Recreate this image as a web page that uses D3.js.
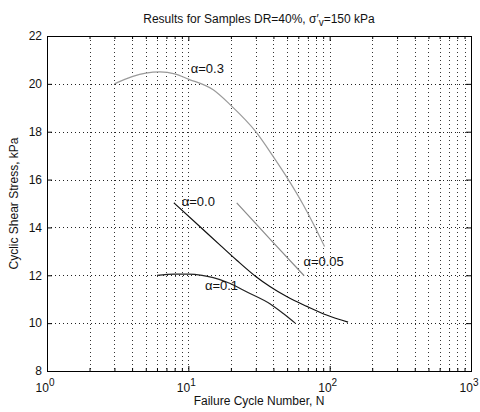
<!DOCTYPE html>
<html><head><meta charset="utf-8">
<script src="https://cdn.jsdelivr.net/npm/d3@7"></script>
<style>
html,body{margin:0;padding:0;background:#fff;}
svg text{font-family:"Liberation Sans",Arial,sans-serif;fill:#111;}
</style></head>
<body>
<svg id="c" width="480" height="412"></svg>
<script>
// ---- data ----
const xTickValues = [1, 10, 100, 1000];
const xTickExponents = ["0", "1", "2", "3"];
const yTickValues = [8, 10, 12, 14, 16, 18, 20, 22];
const seriesNames = ["α=0.3", "α=0.0", "α=0.05", "α=0.1"];
const alpha03N = [3.0, 4.0, 5.0, 6.3, 8.0, 10, 15, 20, 30, 40, 51, 65, 79, 92];
const alpha03S = [20.0, 20.3, 20.45, 20.5, 20.42, 20.2, 19.75, 19.1, 18.0, 16.95, 16.0, 14.95, 14.0, 13.2];
const alpha00N = [7.9, 12, 17, 22, 30, 38, 50, 69, 95, 135];
const alpha00S = [15.03, 14.05, 13.23, 12.63, 11.95, 11.52, 11.1, 10.7, 10.34, 10.04];
const alpha005N = [22, 38, 66];
const alpha005S = [15.03, 13.5, 11.98];
const alpha01N = [6.0, 8.0, 10, 12.5, 15, 19, 26, 38, 47, 57];
const alpha01S = [12.0, 12.05, 12.05, 12.0, 11.9, 11.7, 11.3, 10.8, 10.4, 10.0];
const labelN = [10.4, 8.98, 65.2, 13.1];
const labelS = [20.47, 14.88, 12.37, 11.39];
const titleText = "Results for Samples DR=40%, σ′";
const xLabel = "Failure Cycle Number, N";
const yLabel = "Cyclic Shear Stress, kPa";

// ---- layout ----
const M = {l: 47, t: 36, w: 424, h: 335};
const svg = d3.select("#c");
const g = svg.append("g").attr("transform", `translate(${M.l},${M.t})`);
const x = d3.scaleLog().domain([1, 1000]).range([0, M.w]);
const y = d3.scaleLinear().domain([8, 22]).range([M.h, 0]);

// minor log positions
const minor = [];
[1, 10, 100].forEach(d => { for (let k = 2; k <= 9; k++) minor.push(d * k); });
const vGrid = minor.concat([10, 100]);

// grid
g.append("g").selectAll("line").data(vGrid).join("line")
  .attr("x1", d => Math.round(x(d)) + 0.5).attr("x2", d => Math.round(x(d)) + 0.5)
  .attr("y1", 0).attr("y2", M.h)
  .attr("stroke", "#333").attr("stroke-width", 1).attr("stroke-dasharray", "1,3");
g.append("g").selectAll("line").data(yTickValues.slice(1, -1)).join("line")
  .attr("y1", d => Math.round(y(d)) + 0.5).attr("y2", d => Math.round(y(d)) + 0.5)
  .attr("x1", 0).attr("x2", M.w)
  .attr("stroke", "#222").attr("stroke-width", 1).attr("stroke-dasharray", "1,3");

// axes
const axB = g.append("g").attr("transform", `translate(0,${M.h})`)
  .call(d3.axisBottom(x).tickValues(xTickValues).tickSize(-5).tickPadding(9).tickFormat(""));
const axT = g.append("g").call(d3.axisTop(x).tickValues(xTickValues).tickSize(-5).tickFormat(""));
const axL = g.append("g").call(d3.axisLeft(y).tickValues(yTickValues).tickSize(-5).tickPadding(5).tickFormat(d3.format("d")));
const axR = g.append("g").attr("transform", `translate(${M.w},0)`)
  .call(d3.axisRight(y).tickValues(yTickValues).tickSize(-5).tickFormat(""));
// minor ticks
const axBm = g.append("g").attr("transform", `translate(0,${M.h})`)
  .call(d3.axisBottom(x).tickValues(minor).tickSize(-3).tickFormat(""));
const axTm = g.append("g").call(d3.axisTop(x).tickValues(minor).tickSize(-3).tickFormat(""));
[axB, axT, axL, axR, axBm, axTm].forEach(a => {
  a.select(".domain").remove();
  a.selectAll("line").attr("stroke", "#000");
  a.selectAll("text").attr("font-size", 12).attr("fill", "#111")
    .attr("font-family", "Liberation Sans, Arial, sans-serif");
});
// box
g.append("rect").attr("x", 0.5).attr("y", 0.5).attr("width", M.w).attr("height", M.h)
  .attr("fill", "none").attr("stroke", "#000").attr("stroke-width", 1);

// x tick labels with superscripts
const xl = g.append("g").attr("font-size", 12);
xTickValues.forEach((v, i) => {
  const t = xl.append("text").attr("x", x(v) - 2).attr("y", M.h + 21).attr("text-anchor", "middle");
  t.append("tspan").text("10");
  t.append("tspan").attr("dy", -6).attr("font-size", 10).text(xTickExponents[i]);
});

// curves
const line = d3.line().x(d => x(d[0])).y(d => y(d[1])).curve(d3.curveMonotoneX);
const seriesData = [
  {n: alpha03N, s: alpha03S, c: "#9a9a9a"},
  {n: alpha00N, s: alpha00S, c: "#111"},
  {n: alpha005N, s: alpha005S, c: "#8a8a8a"},
  {n: alpha01N, s: alpha01S, c: "#222"}
];
seriesData.forEach(sd => {
  g.append("path").datum(d3.zip(sd.n, sd.s)).attr("d", line)
    .attr("fill", "none").attr("stroke", sd.c).attr("stroke-width", 1.2);
});
// labels
seriesNames.forEach((nm, i) => {
  g.append("text").attr("x", x(labelN[i])).attr("y", y(labelS[i]))
    .attr("font-size", 13).text(nm);
});

// title
const tt = svg.append("text").attr("x", M.l + M.w / 2).attr("y", 23).attr("text-anchor", "middle").attr("font-size", 12);
tt.append("tspan").text(titleText);
tt.append("tspan").attr("dy", 3).attr("font-size", 10).text("v");
tt.append("tspan").attr("dy", -3).text("=150 kPa");

svg.append("text").attr("x", M.l + M.w / 2).attr("y", 405).attr("text-anchor", "middle").attr("font-size", 12).text(xLabel);
svg.append("text").attr("transform", `translate(18,${M.t + M.h / 2}) rotate(-90)`)
  .attr("text-anchor", "middle").attr("font-size", 12).text(yLabel);
</script>
</body></html>
